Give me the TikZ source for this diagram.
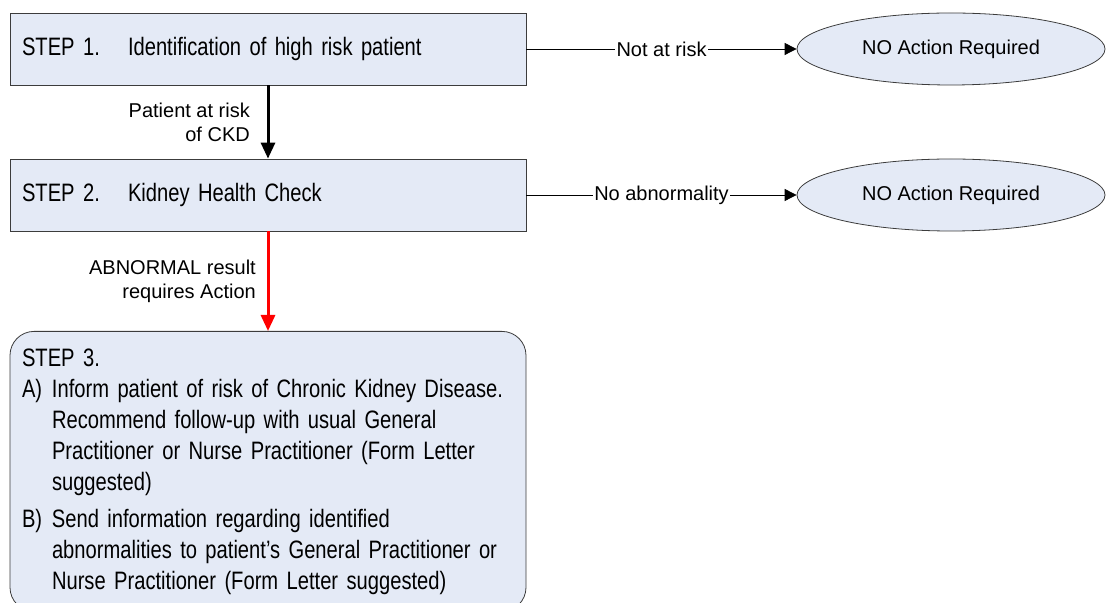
\documentclass[tikz,border=0pt]{standalone}
\usepackage{fontspec}
\setmainfont{Liberation Sans}
\newfontfamily\narrowfont{Liberation Sans}[FakeStretch=0.8, WordSpace=0.8]
\usepackage{tikz}
\usetikzlibrary{arrows.meta}
\usetikzlibrary{shapes.geometric}

\definecolor{stepfill}{RGB}{228,234,246}
\definecolor{stepline}{RGB}{60,60,60}

\begin{document}
\begin{tikzpicture}[ x = 0.5pt, y = -0.5pt
                     , font = \fontsize{10}{12}\selectfont
                     , >={Triangle[width=6pt, length=6pt]}
                     ]

    \tikzset{ stepbox/.style = { rectangle
                               , draw = stepline
                               , fill = stepfill
                               , minimum width = 258pt
                               , minimum height = 36pt
                               , inner xsep = 6pt
                               , text width = 246pt
                               , align = left
                               , font = \narrowfont\fontsize{12.6}{15.5}\selectfont }
            , endstate/.style = { ellipse
                                , draw = stepline
                                , fill = stepfill
                                , minimum width = 154pt
                                , minimum height = 36pt
                                , inner sep = 0pt }
            , outcome/.style = {fill = white, inner sep = 0.6pt}
            , thick arrow/.style = { ->, line width = 1.5pt
                                   , >={Triangle[width=7pt, length=8pt]} }
            }

    \useasboundingbox (0,0) rectangle (1106,603);
    \clip (0,0) rectangle (1106,603);
    %%
    %% Nodes
    %%
    \node (step1)  [stepbox]  at (268,49)  {\makebox[53pt][l]{STEP 1.}Identification of high risk patient};
    \node (step2)  [stepbox]  at (268,195) {\makebox[53pt][l]{STEP 2.}Kidney Health Check};
    \node (noact1) [endstate] at (951,49)  {NO Action Required};
    \node (noact2) [endstate] at (951,195) {NO Action Required};
    \node (step3)  [stepbox, rounded corners = 12pt, anchor = north, minimum height = 140pt]
                              at (268,331)
      {STEP 3.\par
       \hangindent=15pt\hangafter=1\makebox[15pt][l]{A)}Inform patient of risk of Chronic Kidney Disease.\hfil\break
       Recommend follow-up with usual General\hfil\break
       Practitioner or Nurse Practitioner (Form Letter\hfil\break
       suggested)\par
       \vspace{3pt}
       \hangindent=15pt\hangafter=1\makebox[15pt][l]{B)}Send information regarding identified\hfil\break
       abnormalities to patient’s General Practitioner or\hfil\break
       Nurse Practitioner (Form Letter suggested)\par};

    %%
    %% Arrows between nodes
    %%
    \draw[->] (step1) -- node[outcome] {Not at risk} (noact1);
    \draw[->] (step2) -- node[outcome] {No abnormality} (noact2);
    \draw[thick arrow] (step1) -- node[left = 5pt, align = right] {Patient at risk\\ of CKD} (step2);
    \draw[thick arrow, red] (step2) -- node[left = 2pt, align = right, text = black] {ABNORMAL result\\ requires Action} (step3);
  \end{tikzpicture}
\end{document}
